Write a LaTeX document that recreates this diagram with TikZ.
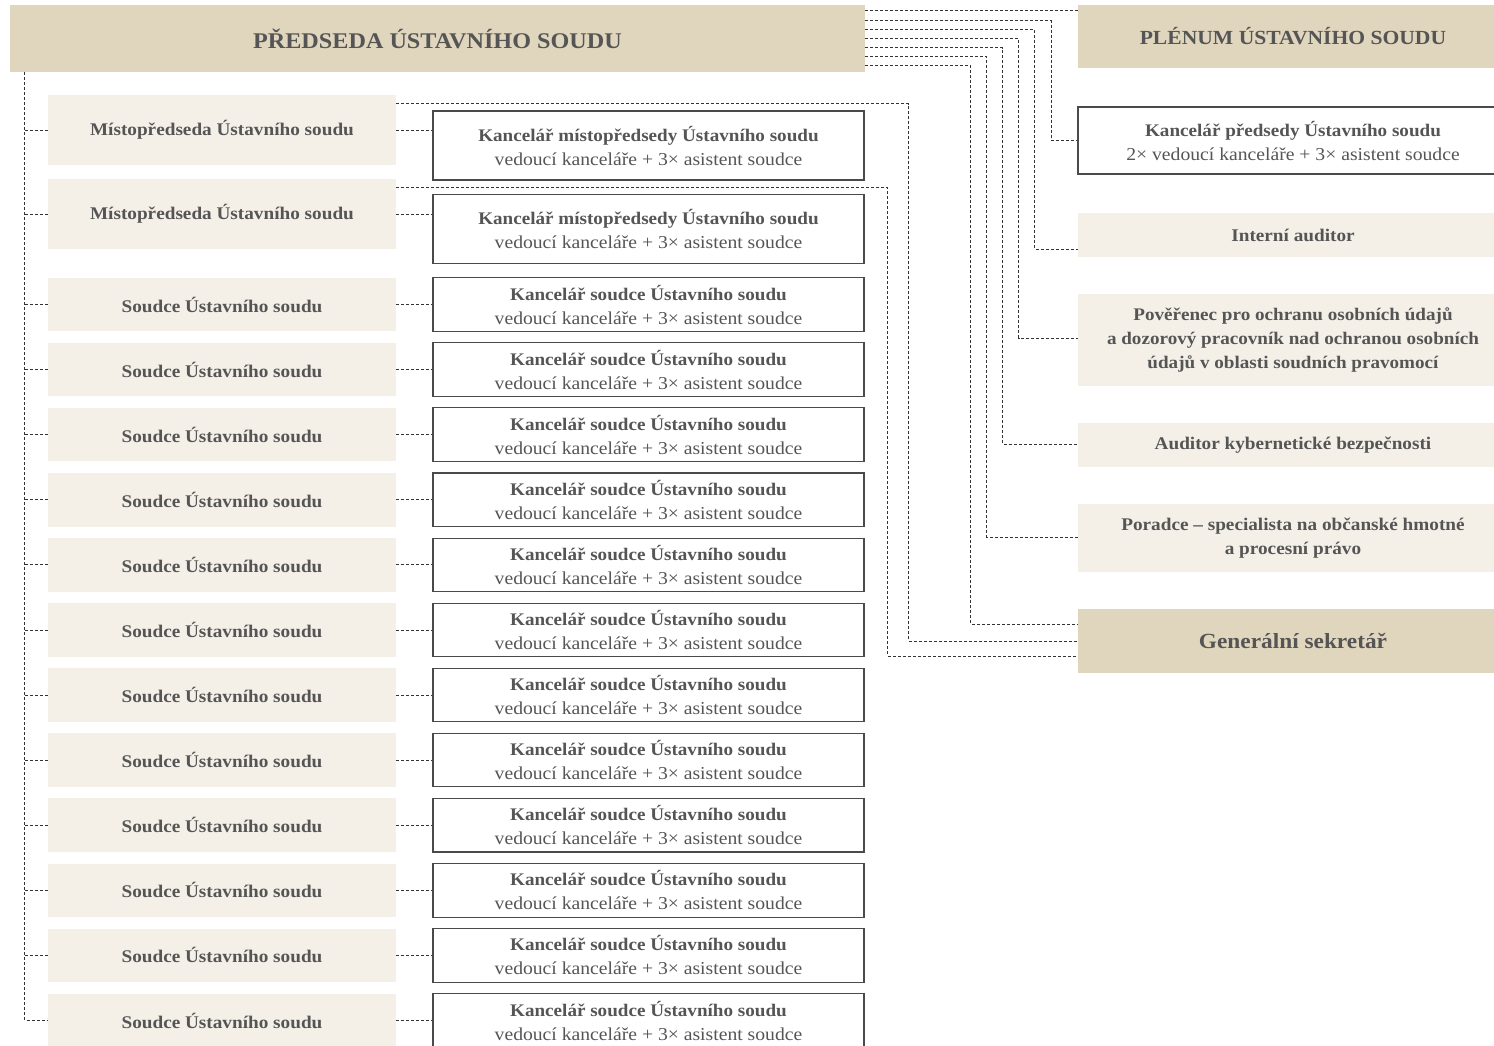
\documentclass[tikz,border=0pt]{standalone}
\usepackage{fontspec}
\setmainfont[FakeStretch=1.08]{Liberation Serif}
\usetikzlibrary{calc}
\definecolor{headc}{HTML}{E0D5BD}
\definecolor{lightc}{HTML}{F4F0E8}
\definecolor{txt}{HTML}{555555}
\definecolor{bordc}{HTML}{4A4A4A}
\definecolor{linec}{HTML}{333333}
\newcommand{\offbold}[1]{{\fontsize{17.7}{24}\selectfont\bfseries #1}}
\begin{document}
\begin{tikzpicture}[x=1pt,y=-1pt,
  head/.style={fill=headc, text=txt, inner sep=0pt, font=\fontsize{22.4}{28}\selectfont\bfseries},
  lbox/.style={fill=lightc, text=txt, minimum width=348pt, minimum height=53.5pt, inner sep=0pt, align=center, font=\fontsize{17.8}{24}\selectfont\bfseries},
  obox/.style={draw=bordc, line width=1.1pt, fill=white, text=txt, minimum width=431pt, minimum height=53.5pt, inner sep=0pt, align=center, font=\fontsize{18.2}{24}\selectfont},
  dl/.style={draw=linec, line width=0.9pt, dash pattern=on 3pt off 2pt}]
\useasboundingbox (0,0) rectangle (1494,1045);
% headers
\node[head, minimum width=855pt, minimum height=67pt] (pres) at (437.5,38.5) {PŘEDSEDA ÚSTAVNÍHO SOUDU};
\node[head, minimum width=430pt, minimum height=63pt, font=\fontsize{20}{24}\selectfont\bfseries] (plen) at (1293,36.5) {PLÉNUM ÚSTAVNÍHO SOUDU};
% left column: vice-presidents
\node[lbox, minimum height=70pt] (m1) at (222,130) {Místopředseda Ústavního soudu};
\node[lbox, minimum height=70pt] (m2) at (222,214) {Místopředseda Ústavního soudu};
\node[obox, minimum height=69pt] (om1) at (648.5,145.5) {\offbold{Kancelář místopředsedy Ústavního soudu}\\vedoucí kanceláře + 3× asistent soudce};
\node[obox, minimum height=69pt] (om2) at (648.5,229) {\offbold{Kancelář místopředsedy Ústavního soudu}\\vedoucí kanceláře + 3× asistent soudce};
% judges
\foreach \i in {0,...,11}{
  \node[lbox] (j\i) at (222,{304.5+65.09*\i}) {Soudce Ústavního soudu};
  \node[obox] (k\i) at (648.5,{304.5+65.09*\i}) {\offbold{Kancelář soudce Ústavního soudu}\\vedoucí kanceláře + 3× asistent soudce};
  \draw[dl] (j\i.east) -- (j\i.east -| k\i.west);
}
\draw[dl] (m1.east) -- (m1.east -| om1.west);
\draw[dl] (m2.east) -- (m2.east -| om2.west);
% left trunk
\coordinate (trunk) at ($(pres.south west)+(15,0)$);
\draw[dl] (trunk) -- (trunk |- j11.west) -- (j11.west);
\foreach \n in {m1,m2,j0,j1,j2,j3,j4,j5,j6,j7,j8,j9,j10}{
  \draw[dl] (trunk |- \n.west) -- (\n.west);
}
% right column
\node[obox, minimum width=430pt, minimum height=67pt] (kp) at (1293,140.5) {\offbold{Kancelář předsedy Ústavního soudu}\\2× vedoucí kanceláře + 3× asistent soudce};
\node[lbox, minimum width=430pt, minimum height=44pt] (ia) at (1293,235) {Interní auditor};
\node[lbox, minimum width=430pt, minimum height=92pt, font=\fontsize{17.7}{24}\selectfont\bfseries] (pov) at (1293,340) {Pověřenec pro ochranu osobních údajů\\a dozorový pracovník nad ochranou osobních\\údajů v~oblasti soudních pravomocí};
\node[lbox, minimum width=430pt, minimum height=44pt] (kyb) at (1293,445) {Auditor kybernetické bezpečnosti};
\node[lbox, minimum width=430pt, minimum height=68pt] (por) at (1293,538) {Poradce – specialista na občanské hmotné\\a procesní právo};
\node[head, minimum width=430pt, minimum height=64pt, font=\fontsize{21.6}{24}\selectfont\bfseries] (gs) at (1293,641) {Generální sekretář};
% connectors from president
\coordinate (p1) at ($(pres.north east)+(0,6)$);
\coordinate (p2) at ($(pres.north east)+(0,16)$);
\coordinate (p3) at ($(pres.north east)+(0,25)$);
\coordinate (p4) at ($(pres.north east)+(0,34)$);
\coordinate (p5) at ($(pres.north east)+(0,43)$);
\coordinate (p6) at ($(pres.north east)+(0,52)$);
\coordinate (p7) at ($(pres.north east)+(0,61)$);
\draw[dl] (p1) -- (p1 -| plen.west);
\draw[dl] (p2) -- ($(p2 -| kp.west)+(-26,0)$) |- (kp.west);
\draw[dl] (p3) -- ($(p3 -| ia.west)+(-43,0)$) |- ($(ia.west)+(0,14)$);
\draw[dl] (p4) -- ($(p4 -| pov.west)+(-59,0)$) |- ($(pov.west)+(0,-2)$);
\draw[dl] (p5) -- ($(p5 -| kyb.west)+(-75,0)$) |- ($(kyb.west)+(0,-1)$);
\draw[dl] (p6) -- ($(p6 -| por.west)+(-91,0)$) |- ($(por.west)+(0,-1)$);
\draw[dl] (p7) -- ($(p7 -| gs.west)+(-107,0)$) |- ($(gs.west)+(0,-17)$);
% connectors from vice-presidents
\coordinate (v1) at ($(m1.north east)+(0,9)$);
\coordinate (v2) at ($(m2.north east)+(0,9)$);
\draw[dl] (v1) -- ($(v1 -| gs.west)+(-169,0)$) |- (gs.west);
\draw[dl] (v2) -- ($(v2 -| gs.west)+(-190,0)$) |- ($(gs.west)+(0,15)$);
\end{tikzpicture}
\end{document}
